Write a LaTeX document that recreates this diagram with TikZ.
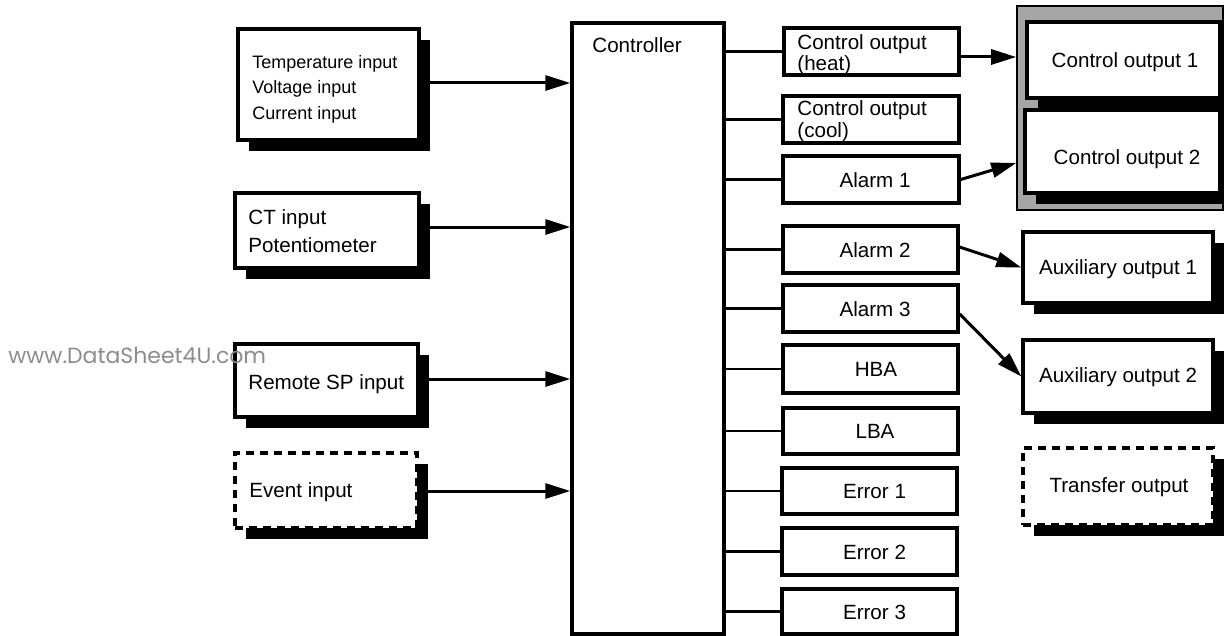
\documentclass[tikz,border=0pt]{standalone}
\usepackage{fontspec}
\setmainfont{Liberation Sans}
\newfontfamily\wmfont{Poppins}
\usetikzlibrary{fit,shadows,arrows.meta}
\begin{document}
\begin{tikzpicture}[x=0.5pt,y=-0.5pt,
  box/.style={draw, line width=1.7pt, fill=white, inner sep=0pt},
  sbox/.style={box, drop shadow={shadow xshift=5.5pt, shadow yshift=-5.5pt, opacity=1, fill=black}},
  dbox/.style={sbox, dash pattern=on 4pt off 3pt},
  ctext/.style={label={[font=\fontsize{10.3}{12}\selectfont, inner sep=0pt, xshift=#1]center:\strut}},
  txt/.style={font=\fontsize{10.3}{12}\selectfont, inner sep=0pt, anchor=base west},
  ctr/.style={font=\fontsize{10.3}{12}\selectfont, inner sep=0pt, anchor=base},
  stxt/.style={font=\fontsize{9}{12}\selectfont, inner sep=0pt, anchor=base west},
  lnk/.style={line width=1.4pt},
  arr/.style={line width=1.5pt, -{Triangle[length=12.5pt,width=7.5pt]}},
]
\useasboundingbox (0,0) rectangle (1224,636);

% controller
\node[box, fit={(572,23)(724,634)}] (ctrl) {};
\node[txt] (ctrlt) at (592,52.4) {Controller};

% inputs
\node[sbox, fit={(238,29)(419,140)}] (temp) {};
\node[stxt] (t1) at (252,68.5) {Temperature input};
\node[stxt] (t2) at (252,93.5) {Voltage input};
\node[stxt] (t3) at (252,119.5) {Current input};

\node[sbox, fit={(235,193)(419,268)}] (ct) {};
\node[txt] (c1) at (248,224.4) {CT input};
\node[txt] (c2) at (248,252.4) {Potentiometer};

\node[sbox, fit={(235,344)(418,417)}] (rsp) {};
\node[txt] (r1) at (248,389.4) {Remote SP input};

\node[dbox, fit={(235,453)(417,528)}] (ev) {};
\node[txt] (e1) at (249,497.4) {Event input};

\draw[arr] (temp.east |- 0,83) -- (ctrl.west |- 0,83);
\draw[arr] (ct.east |- 0,227) -- (ctrl.west |- 0,227);
\draw[arr] (rsp.east |- 0,379) -- (ctrl.west |- 0,379);
\draw[arr] (ev.east |- 0,491) -- (ctrl.west |- 0,491);

% output signals
\node[box, fit={(784,28)(959,75)}] (heat) {};
\node[txt] (h1) at (797,49.4) {Control output};
\node[txt] (h2) at (797,70.4) {(heat)};
\node[box, fit={(783,96)(959,143)}] (cool) {};
\node[txt] (k1) at (797,115.4) {Control output};
\node[txt] (k2) at (797,137.4) {(cool)};
\node[box, fit={(783,156)(959,203)}] (al1) {};
\node[box, fit={(783,226)(958,273)}] (al2) {};
\node[box, fit={(783,285)(958,332)}] (al3) {};
\node[box, fit={(783,345)(958,393)}] (hba) {};
\node[box, fit={(783,408)(958,454)}] (lba) {};
\node[box, fit={(782,468)(957,514)}] (er1) {};
\node[box, fit={(782,528)(957,575)}] (er2) {};
\node[box, fit={(782,589)(957,634)}] (er3) {};
\node[ctr] (al1t) at (875,187.4) {Alarm 1};
\node[ctr] (al2t) at (875,257.4) {Alarm 2};
\node[ctr] (al3t) at (875,316.4) {Alarm 3};
\node[ctr] (hbat) at (876,376.4) {HBA};
\node[ctr] (lbat) at (875,438.4) {LBA};
\node[ctr] (er1t) at (874.5,498.4) {Error 1};
\node[ctr] (er2t) at (874.5,559.4) {Error 2};
\node[ctr] (er3t) at (874.5,619.4) {Error 3};

\foreach \n in {heat,cool,al1,al2,al3,hba,lba,er1,er2,er3}
  \draw[lnk] (\n.west -| ctrl.east) -- (\n.west);

% output devices
\node[draw, line width=0.8pt, fill=black!35, inner sep=0pt, fit={(1017,6)(1223,210)}] (frame) {};
\node[sbox, fit={(1027,22)(1220,98)}] (co1) {};
\node[sbox, fit={(1025,110)(1220,193)}] (co2) {};
\node[sbox, fit={(1023,232)(1213,303)}] (aux1) {};
\node[sbox, fit={(1023,340)(1213,413)}] (aux2) {};
\node[dbox, fit={(1023,448)(1213,525)}] (tro) {};
\node[ctr] (co1t) at (1125,67.4) {Control output 1};
\node[ctr] (co2t) at (1127,164.4) {Control output 2};
\node[ctr] (aux1t) at (1118,274.4) {Auxiliary output 1};
\node[ctr] (aux2t) at (1118,382.4) {Auxiliary output 2};
\node[ctr] (trot) at (1119,492.4) {Transfer output};

\draw[arr] (heat.east |- 0,57) -- (frame.west |- 0,57);
\draw[arr] (al1.east) -- (frame.west |- 0,163);
\draw[arr] (al2.east |- 0,247) -- (aux1.west);
\draw[arr] (al3.east |- 0,314) -- (aux2.west);

% watermark
\node[text=black!45, font=\wmfont\fontsize{11}{12}\selectfont, inner sep=0pt, anchor=west] (wm) at (8,355) {www.DataSheet4U.com};
\end{tikzpicture}
\end{document}
